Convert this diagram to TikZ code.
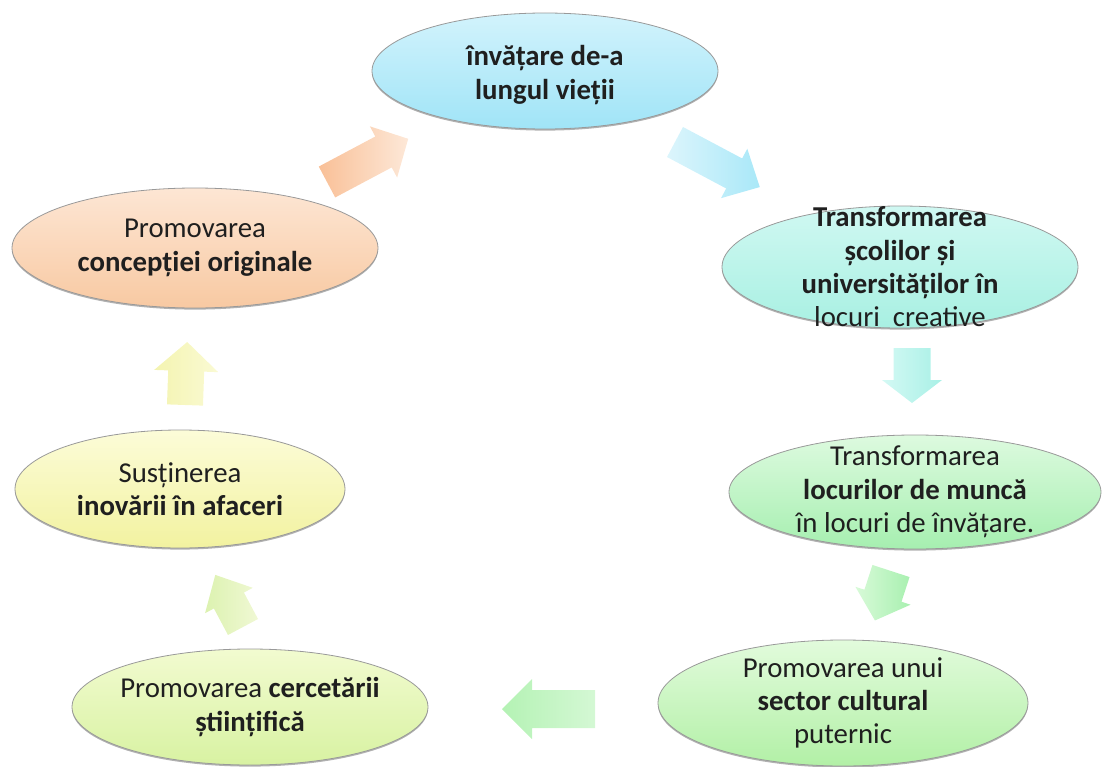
\documentclass[tikz,border=0pt]{standalone}
\usepackage{fontspec}
\setmainfont{Carlito}
\usetikzlibrary{shapes.geometric}
\definecolor{eAt}{HTML}{D2F3FC}\definecolor{eAb}{HTML}{A0E4F7}
\definecolor{eBt}{HTML}{D0F8F2}\definecolor{eBb}{HTML}{A8F0E2}
\definecolor{eCt}{HTML}{DDFADF}\definecolor{eCb}{HTML}{A6EFB0}
\definecolor{eDt}{HTML}{E2FBDC}\definecolor{eDb}{HTML}{B2F0A6}
\definecolor{eEt}{HTML}{F2FBD0}\definecolor{eEb}{HTML}{D8F2A2}
\definecolor{eFt}{HTML}{FCFCD8}\definecolor{eFb}{HTML}{F2F2A0}
\definecolor{eGt}{HTML}{FDE6D4}\definecolor{eGb}{HTML}{F8C9A2}
\definecolor{aAtail}{HTML}{F9C097}\definecolor{aAtip}{HTML}{FDE8D8}
\definecolor{aBtail}{HTML}{DCF5FC}\definecolor{aBtip}{HTML}{A9E8F8}
\definecolor{aCtail}{HTML}{D4F9F4}\definecolor{aCtip}{HTML}{A8F0E6}
\definecolor{aDtail}{HTML}{D8FAD8}\definecolor{aDtip}{HTML}{A8F0B0}
\definecolor{aEtail}{HTML}{B4F2B4}\definecolor{aEtip}{HTML}{D4F8D4}
\definecolor{aFtail}{HTML}{DCF2B0}\definecolor{aFtip}{HTML}{F0F8D4}
\definecolor{aGtail}{HTML}{F4F4B0}\definecolor{aGtip}{HTML}{FAFAD4}
\tikzset{
  bubble/.style={ellipse, inner sep=0pt, draw=black!40, line width=0.6pt},
  bubshadow/.style={ellipse, inner sep=0pt, fill=black, opacity=0.3},
  txt/.style={align=center, font=\fontsize{21.6}{25}\selectfont, text=black!88, inner sep=0pt},
}
\begin{document}
\begin{tikzpicture}[x=0.75pt, y=-0.75pt]
\useasboundingbox (0,0) rectangle (1108,767);
% shadows
\node[bubshadow, minimum width=259.5pt, minimum height=87pt] (s1) at (545,72.6) {};
\node[bubshadow, minimum width=267pt, minimum height=91.5pt] (s2) at (900,268.6) {};
\node[bubshadow, minimum width=279pt, minimum height=85.5pt] (s3) at (915,493.6) {};
\node[bubshadow, minimum width=277.5pt, minimum height=94.5pt] (s4) at (843,704.6) {};
\node[bubshadow, minimum width=267pt, minimum height=87pt] (s5) at (250,708.6) {};
\node[bubshadow, minimum width=247.5pt, minimum height=88.5pt] (s6) at (180,490.6) {};
\node[bubshadow, minimum width=274.5pt, minimum height=90pt] (s7) at (195,249.6) {};
% ellipses
\node[bubble, top color=eAt, bottom color=eAb, minimum width=259.5pt, minimum height=87pt] (e1) at (545,71) {};
\node[bubble, top color=eBt, bottom color=eBb, minimum width=267pt, minimum height=91.5pt] (e2) at (900,267) {};
\node[bubble, top color=eCt, bottom color=eCb, minimum width=279pt, minimum height=85.5pt] (e3) at (915,492) {};
\node[bubble, top color=eDt, bottom color=eDb, minimum width=277.5pt, minimum height=94.5pt] (e4) at (843,703) {};
\node[bubble, top color=eEt, bottom color=eEb, minimum width=267pt, minimum height=87pt] (e5) at (250,707) {};
\node[bubble, top color=eFt, bottom color=eFb, minimum width=247.5pt, minimum height=88.5pt] (e6) at (180,489) {};
\node[bubble, top color=eGt, bottom color=eGb, minimum width=274.5pt, minimum height=90pt] (e7) at (195,248) {};
% texts
\node[txt, font=\fontsize{21.6}{26}\selectfont] (t1) at ([yshift=-3pt]e1.center) {\textbf{învățare de-a}\\\textbf{lungul vieții}};
\node[txt] (t2) at (e2.center) {\textbf{Transformarea}\\\textbf{școlilor și}\\\textbf{universităților în}\\locuri\ \ creative};
\node[txt] (t3) at (e3.center) {Transformarea\\\textbf{locurilor de muncă}\\în locuri de învățare.};
\node[txt] (t4) at (e4.center) {Promovarea unui\\\textbf{sector cultural}\\puternic};
\node[txt] (t5) at (e5.center) {Promovarea \textbf{cercetării}\\\textbf{științifică}};
\node[txt] (t6) at (e6.center) {Susținerea\\\textbf{inovării în afaceri}};
\node[txt] (t7) at (e7.center) {Promovarea\\\textbf{concepției originale}};
% block arrows (tail at origin of each scope, pointing along +x)
\begin{scope}[shift={(327,182)}, rotate=28]
  \shade[left color=aAtail, right color=aAtip] (0,-17.5) -- (64,-17.5) -- (64,-29) -- (92,0) -- (64,29) -- (64,17.5) -- (0,17.5) -- cycle;
\end{scope}
\begin{scope}[shift={(675,142)}, rotate=-28]
  \shade[left color=aBtail, right color=aBtip] (0,-17) -- (67,-17) -- (67,-28) -- (96,0) -- (67,28) -- (67,17) -- (0,17) -- cycle;
\end{scope}
\begin{scope}[shift={(912,348)}, rotate=-90]
  \shade[left color=aCtail, right color=aCtip] (0,-18.5) -- (32,-18.5) -- (32,-30) -- (55,0) -- (32,30) -- (32,18.5) -- (0,18.5) -- cycle;
\end{scope}
\begin{scope}[shift={(891,571)}, rotate=-108]
  \shade[left color=aDtail, right color=aDtip] (0,-19.5) -- (26,-19.5) -- (26,-29) -- (52,0) -- (26,29) -- (26,19.5) -- (0,19.5) -- cycle;
\end{scope}
\begin{scope}[shift={(595,709)}, rotate=180]
  \shade[left color=aEtail, right color=aEtip] (0,-19) -- (63,-19) -- (63,-30) -- (93,0) -- (63,30) -- (63,19) -- (0,19) -- cycle;
\end{scope}
\begin{scope}[shift={(243,627)}, rotate=118]
  \shade[left color=aFtail, right color=aFtip] (0,-17) -- (30,-17) -- (30,-27) -- (59,0) -- (30,27) -- (30,17) -- (0,17) -- cycle;
\end{scope}
\begin{scope}[shift={(185,405)}, rotate=88]
  \shade[left color=aGtail, right color=aGtip] (0,-18) -- (34,-18) -- (34,-32) -- (63,0) -- (34,32) -- (34,18) -- (0,18) -- cycle;
\end{scope}
\end{tikzpicture}
\end{document}
